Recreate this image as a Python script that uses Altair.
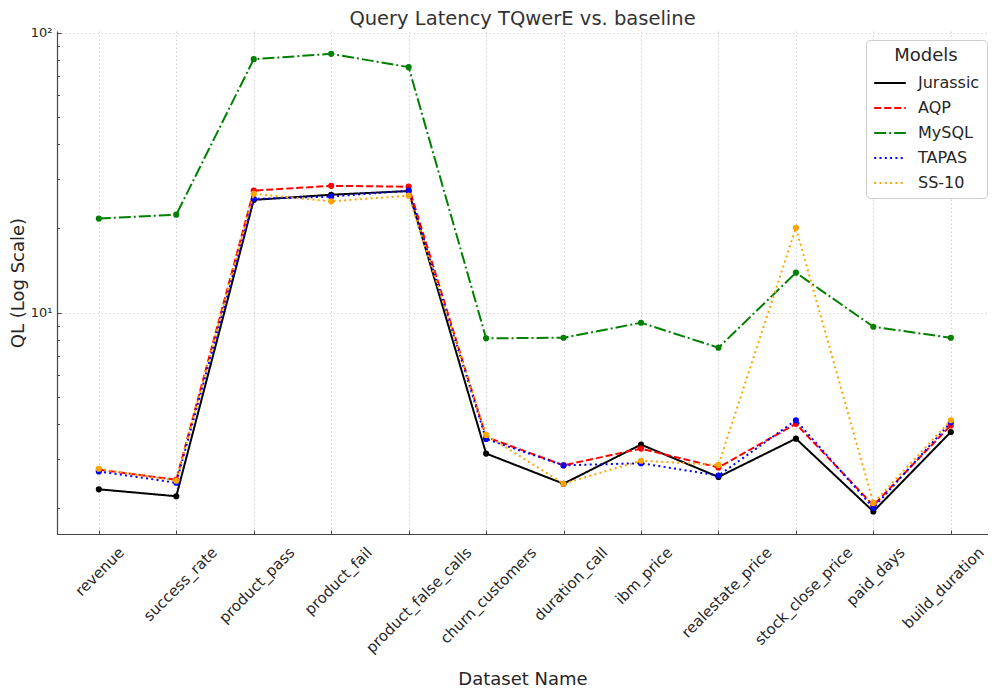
import json
import altair as alt
import pandas as pd

datasets = ["revenue", "success_rate", "product_pass", "product_fail", "product_false_calls",
            "churn_customers", "duration_call", "ibm_price", "realestate_price",
            "stock_close_price", "paid_days", "build_duration"]
models = ["Jurassic", "AQP", "MySQL", "TAPAS", "SS-10"]

jurassic = [2.34, 2.21, 25.3, 26.4, 27.2, 3.14, 2.45, 3.38, 2.59, 3.55, 1.95, 3.75]
aqp = [2.75, 2.53, 27.3, 28.4, 28.2, 3.60, 2.85, 3.27, 2.80, 4.01, 2.05, 3.96]
mysql = [21.7, 22.4, 80.5, 84.1, 75.4, 8.10, 8.14, 9.21, 7.50, 13.9, 8.91, 8.14]
tapas = [2.71, 2.47, 25.5, 26.0, 27.3, 3.54, 2.85, 2.90, 2.62, 4.13, 2.01, 4.06]
ss10 = [2.77, 2.51, 26.6, 25.0, 26.2, 3.66, 2.45, 2.96, 2.86, 20.1, 2.09, 4.13]

colors = ["#000000", "#ff0000", "#008000", "#0000ff", "#ffa500"]
dashes = [[1, 0], [7, 3], [12, 3, 2, 3], [2, 3.3], [2, 3.3]]

y_ticks = [2, 3, 4, 5, 6, 7, 8, 9, 10, 20, 30, 40, 50, 60, 70, 80, 90, 100]

series = {"Jurassic": jurassic, "AQP": aqp, "MySQL": mysql, "TAPAS": tapas, "SS-10": ss10}
rows = []
for m in models:
    for i, (d, v) in enumerate(zip(datasets, series[m])):
        rows.append({"idx": i, "Dataset": d, "Model": m, "QL": v})
df = pd.DataFrame(rows)

FONT = "DejaVu Sans"
TXT = "#262626"
names_js = json.dumps(datasets)
last_idx = len(datasets) - 1

x_enc = alt.X(
    "idx:Q",
    scale=alt.Scale(domain=[-0.54, 11.48], nice=False, zero=False),
    axis=alt.Axis(
        title="Dataset Name", titleFontSize=18, titleFontWeight="normal", titleColor=TXT,
        titleY=145, titleBaseline="middle",
        values=list(range(len(datasets))),
        labelExpr=f"{names_js}[datum.value]",
        labelAngle=-45, labelAlign="right", labelBaseline="middle",
        labelFontSize=15, labelColor=TXT,
        labelOffset=alt.ExprRef(
            f"datum.value == {last_idx} ? 30 : length({names_js}[datum.value]) * 3.15"),
        labelPadding=19.5, labelFlush=False, labelOverlap=False,
        tickSize=alt.ExprRef("-4"), tickColor="#444", tickWidth=1,
        domainColor="#444", domainWidth=1.2,
        grid=True, gridDash=[1.5, 2.5], gridColor="#c8c8c8", gridWidth=0.8,
    ),
)

y_enc = alt.Y(
    "QL:Q",
    scale=alt.Scale(type="log", domain=[1.62, 101.5], nice=False),
    axis=alt.Axis(
        title="QL (Log Scale)", titleFontSize=18, titleFontWeight="normal", titleColor=TXT,
        titleX=-38.5, titleBaseline="middle",
        values=y_ticks,
        labelExpr="datum.value == 10 ? '10¹' : (datum.value == 100 ? '10²' : '')",
        labelFontSize=13, labelColor=TXT, labelPadding=9,
        tickSize=alt.ExprRef("(datum.value == 10 || datum.value == 100) ? -4 : -2.5"),
        tickColor="#444", tickWidth=1,
        domainColor="#444", domainWidth=1.2,
        grid=True, gridDash=[1.5, 2.5], gridColor="#c8c8c8", gridWidth=0.8,
        gridOpacity=alt.ExprRef("(datum.value == 10 || datum.value == 100) ? 1 : 0"),
    ),
)

legend = alt.Legend(
    title="Models", orient="none", legendX=809, legendY=9, padding=7,
    strokeColor="#cccccc", fillColor="white", cornerRadius=4,
    titleFontSize=18, titleFontWeight="normal", titleColor=TXT, titleAnchor="middle",
    titlePadding=1,
    labelFontSize=16, labelColor=TXT, labelOffset=11,
    symbolType="stroke", symbolSize=1000, symbolStrokeWidth=2, rowPadding=0,
)

color_enc = alt.Color("Model:N", scale=alt.Scale(domain=models, range=colors), legend=legend)
dash_enc = alt.StrokeDash("Model:N", scale=alt.Scale(domain=models, range=dashes), legend=legend)

layers = []
for m in models:
    layers.append(
        alt.Chart(df)
        .transform_filter(alt.datum.Model == m)
        .mark_line(strokeWidth=2, point=alt.OverlayMarkDef(filled=True, size=38))
        .encode(x=x_enc, y=y_enc, color=color_enc, strokeDash=dash_enc)
    )

chart = (
    alt.layer(*layers)
    .properties(
        width=931, height=503,
        title=alt.TitleParams("Query Latency TQwerE vs. baseline", fontSize=19.5,
                              fontWeight="normal", color="#333333", offset=0, dy=3,
                              anchor="middle", frame="group"),
        padding={"left": 49, "top": 23, "right": 0, "bottom": 154},
        autosize=alt.AutoSizeParams(type="none"),
    )
    .configure(font=FONT)
    .configure_view(stroke=None)
)

chart.save("out.html", embed_options={"renderer": "svg", "actions": False})
